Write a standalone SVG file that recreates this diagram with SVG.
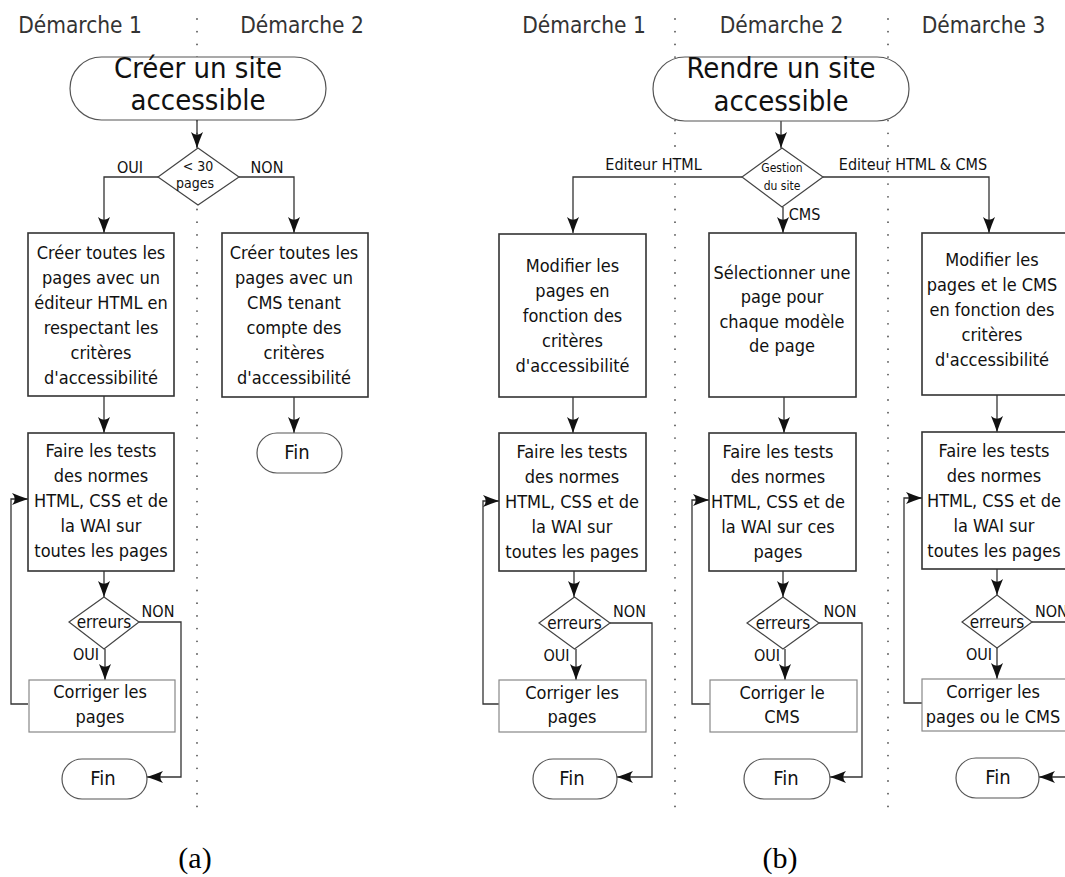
<svg xmlns="http://www.w3.org/2000/svg" width="1065" height="877" viewBox="0 0 1065 877">
<defs>
<style>
.t{font-family:"DejaVu Sans Condensed","DejaVu Sans",sans-serif;font-stretch:condensed;fill:#111;text-anchor:middle}
.hdr{font-size:22.5px;fill:#333}
.big{font-size:29px}
.bx{font-size:18px}
.fin{font-size:20px}
.lbl{font-size:16px}
.er{font-size:17px}
.sm{font-size:14px}
.xs{font-size:12px}
.st{text-anchor:start}
.cap{font-family:"Liberation Serif",serif;font-size:30px;text-anchor:middle;fill:#000}
.box{fill:#fff;stroke:#333;stroke-width:1.6}
.term{fill:#fff;stroke:#555;stroke-width:1.2}
.dia{fill:#fff;stroke:#444;stroke-width:1.2}
.fix{fill:#fff;stroke:#888;stroke-width:1.2}
.c{fill:none;stroke:#333;stroke-width:1.3;marker-end:url(#ah)}
.sep{stroke:#555;stroke-width:1.8;stroke-dasharray:0 12.7;stroke-linecap:round}
</style>
<marker id="ah" markerWidth="17" markerHeight="13" refX="16" refY="6.5" orient="auto" markerUnits="userSpaceOnUse" viewBox="0 0 17 13">
<path d="M16,6.5 Q7,3.5 0,0.5 Q5.5,6.5 0,12.5 Q7,9.5 16,6.5 Z" fill="#111"/>
</marker>
</defs>
<rect width="1065" height="877" fill="#fff"/>

<g id="separators">
<line class="sep" x1="197" y1="19" x2="197" y2="818"/>
<line class="sep" x1="675" y1="19" x2="675" y2="818"/>
<line class="sep" x1="888" y1="19" x2="888" y2="818"/>
</g>

<g id="headers">
<text class="t hdr" x="80" y="33">Démarche 1</text>
<text class="t hdr" x="302" y="33">Démarche 2</text>
<text class="t hdr" x="584" y="33">Démarche 1</text>
<text class="t hdr" x="781.5" y="33">Démarche 2</text>
<text class="t hdr" x="983.5" y="33">Démarche 3</text>
</g>

<g id="connectors">
<path class="c" d="M197,120 V148"/>
<path class="c" d="M158,177 H104 V233"/>
<path class="c" d="M239,177 H294 V233"/>
<path class="c" d="M104,396 V433"/>
<path class="c" d="M294,397 V433"/>
<path class="c" d="M104,571 V597"/>
<path class="c" d="M105,649 V680"/>
<path class="c" d="M139,622 H181 V777 H147"/>
<path class="c" d="M28,704 H11 V499 H28"/>

<path class="c" d="M781,121 V148"/>
<path class="c" d="M742,177 H573 V233"/>
<path class="c" d="M783,207 V233"/>
<path class="c" d="M823,177 H989 V233"/>
<path class="c" d="M573,397 V433"/>
<path class="c" d="M784,397 V433"/>
<path class="c" d="M997,395 V432"/>
<path class="c" d="M574,571 V597"/>
<path class="c" d="M783,571 V597"/>
<path class="c" d="M997,569 V595"/>
<path class="c" d="M576,649 V680"/>
<path class="c" d="M785,649 V680"/>
<path class="c" d="M997,648 V679"/>
<path class="c" d="M610,623 H652 V777 H617"/>
<path class="c" d="M819,623 H862 V777 H830"/>
<path class="c" d="M1032,622 H1075 V777 H1039"/>
<path class="c" d="M499,704 H483 V501 H499"/>
<path class="c" d="M710,704 H692 V500 H709"/>
<path class="c" d="M922,703 H904 V498 H922"/>
</g>

<g id="a-start">
<rect class="term" x="70" y="57" width="256" height="63" rx="31.5"/>
<text class="t big" x="198" y="78">Créer un site</text>
<text class="t big" x="198" y="110">accessible</text>
</g>
<g id="a-decision">
<polygon class="dia" points="198,148 239,177 198,205 158,177"/>
<text class="t sm" x="198" y="171">&lt; 30</text>
<text class="t sm" x="195" y="188">pages</text>
<text class="t lbl" x="130" y="173">OUI</text>
<text class="t lbl" x="267" y="173">NON</text>
</g>
<g id="a-html">
<rect class="box" x="28" y="233" width="146" height="163"/>
<text class="t bx" x="101" y="259">Créer toutes les</text>
<text class="t bx" x="101" y="284">pages avec un</text>
<text class="t bx" x="101" y="309">éditeur HTML en</text>
<text class="t bx" x="101" y="334">respectant les</text>
<text class="t bx" x="101" y="359">critères</text>
<text class="t bx" x="101" y="384">d'accessibilité</text>
</g>
<g id="a-cms">
<rect class="box" x="222" y="233" width="146" height="164"/>
<text class="t bx" x="294" y="259">Créer toutes les</text>
<text class="t bx" x="294" y="284">pages avec un</text>
<text class="t bx" x="294" y="309">CMS tenant</text>
<text class="t bx" x="294" y="334">compte des</text>
<text class="t bx" x="294" y="359">critères</text>
<text class="t bx" x="294" y="384">d'accessibilité</text>
</g>
<g id="a-fin2">
<rect class="term" x="257" y="433" width="85" height="40" rx="20"/>
<text class="t fin" x="297" y="459">Fin</text>
</g>
<g id="a-tests">
<rect class="box" x="28" y="433" width="146" height="138"/>
<text class="t bx" x="101" y="457">Faire les tests</text>
<text class="t bx" x="101" y="482">des normes</text>
<text class="t bx" x="101" y="507">HTML, CSS et de</text>
<text class="t bx" x="101" y="532">la WAI sur</text>
<text class="t bx" x="101" y="557">toutes les pages</text>
</g>
<g id="a-err">
<polygon class="dia" points="104,597 139,622 104,649 69,622"/>
<text class="t er" x="104" y="628">erreurs</text>
<text class="t lbl" x="158" y="617">NON</text>
<text class="t lbl" x="86" y="660">OUI</text>
</g>
<g id="a-fix">
<rect class="fix" x="29" y="680" width="146" height="52"/>
<text class="t bx" x="100" y="698">Corriger les</text>
<text class="t bx" x="100" y="723">pages</text>
</g>
<g id="a-fin">
<rect class="term" x="62" y="759" width="85" height="40" rx="20"/>
<text class="t fin" x="103" y="785">Fin</text>
</g>

<g id="b-start">
<rect class="term" x="653" y="57" width="256" height="64" rx="32"/>
<text class="t big" x="781" y="78">Rendre un site</text>
<text class="t big" x="781" y="111">accessible</text>
</g>
<g id="b-decision">
<polygon class="dia" points="782,148 823,177 782,207 742,177"/>
<text class="t xs" x="782" y="172">Gestion</text>
<text class="t xs" x="782" y="190">du site</text>
<text class="t lbl" x="653.5" y="170">Editeur HTML</text>
<text class="t lbl" x="913" y="170">Editeur HTML &amp; CMS</text>
<text class="t lbl" x="804.5" y="220">CMS</text>
</g>
<g id="b1-modify">
<rect class="box" x="499" y="234" width="147" height="163"/>
<text class="t bx" x="572.5" y="272">Modifier les</text>
<text class="t bx" x="572.5" y="297">pages en</text>
<text class="t bx" x="572.5" y="322">fonction des</text>
<text class="t bx" x="572.5" y="347">critères</text>
<text class="t bx" x="572.5" y="372">d'accessibilité</text>
</g>
<g id="b2-select">
<rect class="box" x="709" y="233" width="147" height="164"/>
<text class="t bx" x="782" y="279">Sélectionner une</text>
<text class="t bx" x="782" y="303">page pour</text>
<text class="t bx" x="782" y="328">chaque modèle</text>
<text class="t bx" x="782" y="352">de page</text>
</g>
<g id="b3-modify">
<rect class="box" x="922" y="233" width="147" height="162"/>
<text class="t bx" x="992" y="266">Modifier les</text>
<text class="t bx" x="992" y="291">pages et le CMS</text>
<text class="t bx" x="992" y="316">en fonction des</text>
<text class="t bx" x="992" y="341">critères</text>
<text class="t bx" x="992" y="366">d'accessibilité</text>
</g>
<g id="b1-tests">
<rect class="box" x="499" y="433" width="147" height="138"/>
<text class="t bx" x="572" y="458">Faire les tests</text>
<text class="t bx" x="572" y="483">des normes</text>
<text class="t bx" x="572" y="508">HTML, CSS et de</text>
<text class="t bx" x="572" y="533">la WAI sur</text>
<text class="t bx" x="572" y="558">toutes les pages</text>
</g>
<g id="b2-tests">
<rect class="box" x="709" y="433" width="147" height="138"/>
<text class="t bx" x="778" y="458">Faire les tests</text>
<text class="t bx" x="778" y="483">des normes</text>
<text class="t bx" x="778" y="508">HTML, CSS et de</text>
<text class="t bx" x="778" y="533">la WAI sur ces</text>
<text class="t bx" x="778" y="558">pages</text>
</g>
<g id="b3-tests">
<rect class="box" x="922" y="432" width="147" height="137"/>
<text class="t bx" x="994" y="457">Faire les tests</text>
<text class="t bx" x="994" y="482">des normes</text>
<text class="t bx" x="994" y="507">HTML, CSS et de</text>
<text class="t bx" x="994" y="532">la WAI sur</text>
<text class="t bx" x="994" y="557">toutes les pages</text>
</g>
<g id="b1-err">
<polygon class="dia" points="574.5,597 610,623 574.5,649 539,623"/>
<text class="t er" x="574.5" y="629">erreurs</text>
<text class="t lbl" x="629.5" y="617">NON</text>
<text class="t lbl" x="556.5" y="661">OUI</text>
</g>
<g id="b2-err">
<polygon class="dia" points="783,597 819,623 783,649 747,623"/>
<text class="t er" x="783" y="629">erreurs</text>
<text class="t lbl" x="840" y="617">NON</text>
<text class="t lbl" x="767" y="661">OUI</text>
</g>
<g id="b3-err">
<polygon class="dia" points="997,595 1032,622 997,648 962,622"/>
<text class="t er" x="997" y="628">erreurs</text>
<text class="t lbl st" x="1035" y="617">NON</text>
<text class="t lbl" x="979" y="660">OUI</text>
</g>
<g id="b1-fix">
<rect class="fix" x="499" y="680" width="147" height="52"/>
<text class="t bx" x="572" y="699">Corriger les</text>
<text class="t bx" x="572" y="723">pages</text>
</g>
<g id="b2-fix">
<rect class="fix" x="710" y="680" width="147" height="52"/>
<text class="t bx" x="782" y="699">Corriger le</text>
<text class="t bx" x="782" y="723">CMS</text>
</g>
<g id="b3-fix">
<rect class="fix" x="922" y="679" width="147" height="52"/>
<text class="t bx" x="993" y="698">Corriger les</text>
<text class="t bx" x="993" y="723">pages ou le CMS</text>
</g>
<g id="b1-fin">
<rect class="term" x="533" y="759" width="84" height="40" rx="20"/>
<text class="t fin" x="572" y="785">Fin</text>
</g>
<g id="b2-fin">
<rect class="term" x="744" y="759" width="86" height="40" rx="20"/>
<text class="t fin" x="786" y="785">Fin</text>
</g>
<g id="b3-fin">
<rect class="term" x="956" y="758" width="83" height="40" rx="20"/>
<text class="t fin" x="998" y="784">Fin</text>
</g>

<g id="captions">
<text class="cap" x="195" y="868">(a)</text>
<text class="cap" x="780" y="868">(b)</text>
</g>
</svg>
